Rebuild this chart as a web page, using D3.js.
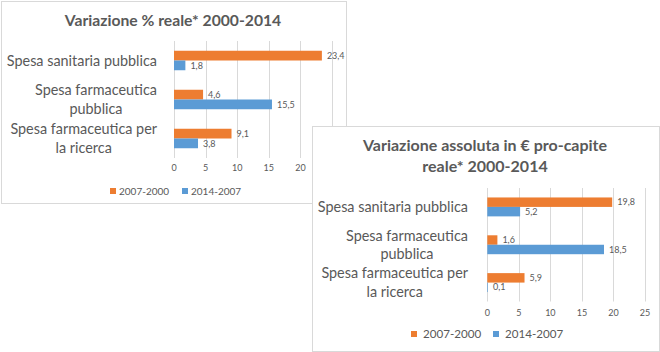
<html>

<body style="margin:0;background:#fff">
    <script src="https://d3js.org/d3.v7.min.js"></script>
    <div id="main"></div>

    <script>
        // chart values
        var categories = ["Spesa sanitaria pubblica", "Spesa farmaceutica pubblica", "Spesa farmaceutica per la ricerca"];
        var categoryLines = [["Spesa sanitaria pubblica"], ["Spesa farmaceutica", "pubblica"], ["Spesa farmaceutica per", "la ricerca"]];
        var seriesNames = ["2007-2000", "2014-2007"];
        var pct2007 = [23.4, 4.6, 9.1];
        var pct2014 = [1.8, 15.5, 3.8];
        var abs2007 = [19.8, 1.6, 5.9];
        var abs2014 = [5.2, 18.5, 0.1];
        var tickValues = [0, 5, 10, 15, 20, 25];

        var colors = { "2007-2000": "#ED7D31", "2014-2007": "#5B9BD5" };
        var textColor = "#595959";
        var font = "Lato, 'Open Sans', sans-serif";

        var svg = d3.select("#main")
            .append("svg")
            .attr("width", 660)
            .attr("height", 352)
            .style("font-family", font);

        function drawChart(cfg) {
            var g = svg.append("g");

            // panel
            g.append("rect")
                .attr("x", cfg.box[0] + 0.5)
                .attr("y", cfg.box[1] + 0.5)
                .attr("width", cfg.box[2])
                .attr("height", cfg.box[3])
                .style("fill", "white")
                .style("stroke", "#d9d9d9");

            // title
            var title = g.append("text")
                .attr("x", cfg.titleX)
                .attr("y", cfg.titleY)
                .style("text-anchor", "middle")
                .style("font-weight", "bold")
                .style("font-size", cfg.titleSize + "px")
                .style("fill", textColor);
            cfg.title.forEach(function (t, i) {
                title.append("tspan")
                    .attr("x", cfg.titleX)
                    .attr("dy", i == 0 ? 0 : 21)
                    .text(t);
            });

            var x = d3.scaleLinear()
                .domain([0, 25])
                .range(cfg.xRange);

            var y = d3.scaleBand()
                .domain(categories)
                .range(cfg.yRange)
                .paddingInner(0.5)
                .paddingOuter(0.25);

            var ySub = d3.scaleBand()
                .domain(seriesNames)
                .range([0, y.bandwidth()]);

            // gridlines
            g.append("g")
                .selectAll("line")
                .data(tickValues)
                .enter()
                .append("line")
                .attr("x1", function (d) { return Math.round(x(d)) + 0.5; })
                .attr("x2", function (d) { return Math.round(x(d)) + 0.5; })
                .attr("y1", cfg.yRange[0])
                .attr("y2", cfg.yRange[1])
                .style("stroke", "#d9d9d9");

            // tick labels
            g.append("g")
                .selectAll("text")
                .data(tickValues)
                .enter()
                .append("text")
                .attr("x", function (d) { return x(d); })
                .attr("y", cfg.tickY)
                .attr("dy", "0.35em")
                .style("text-anchor", "middle")
                .style("font-size", "9px")
                .style("fill", textColor)
                .text(function (d) { return d; });

            // category labels
            categories.forEach(function (c, i) {
                var lines = categoryLines[i];
                var cy = y(c) + y.bandwidth() / 2;
                var t = g.append("text")
                    .style("font-size", cfg.catSize + "px")
                    .style("fill", textColor)
                    .style("text-anchor", "end");
                lines.forEach(function (l, j) {
                    t.append("tspan")
                        .attr("x", cfg.catX)
                        .attr("y", cy + (j - (lines.length - 1) / 2) * cfg.catLine)
                        .attr("dy", "0.35em")
                        .text(l);
                });
                // center shorter lines under the longest one
                var w = t.selectAll("tspan").nodes().map(function (n) { return n.getComputedTextLength(); });
                var maxW = d3.max(w);
                t.selectAll("tspan").attr("x", function (d, j) { return cfg.catX - (maxW - w[j]) / 2; });
            });

            // bars
            var rows = [];
            categories.forEach(function (c, i) {
                rows.push({ cat: c, series: seriesNames[0], value: cfg.values[0][i] });
                rows.push({ cat: c, series: seriesNames[1], value: cfg.values[1][i] });
            });

            g.append("g")
                .selectAll("rect")
                .data(rows)
                .enter()
                .append("rect")
                .attr("x", x(0))
                .attr("y", function (d) { return y(d.cat) + ySub(d.series); })
                .attr("width", function (d) { return x(d.value) - x(0); })
                .attr("height", ySub.bandwidth())
                .style("fill", function (d) { return colors[d.series]; });

            g.append("g")
                .selectAll("text")
                .data(rows)
                .enter()
                .append("text")
                .attr("x", function (d) { return x(d.value) + 5; })
                .attr("y", function (d) { return y(d.cat) + ySub(d.series) + ySub.bandwidth() / 2; })
                .attr("dy", "0.35em")
                .style("font-size", "9px")
                .style("fill", textColor)
                .text(function (d) { return String(d.value).replace(".", ","); });

            // legend
            seriesNames.forEach(function (s, i) {
                g.append("rect")
                    .attr("x", cfg.legendX[i])
                    .attr("y", cfg.legendY - 3)
                    .attr("width", 6)
                    .attr("height", 6)
                    .style("fill", colors[s]);
                g.append("text")
                    .attr("x", cfg.legendX[i] + cfg.legendGap)
                    .attr("y", cfg.legendY)
                    .attr("dy", "0.35em")
                    .style("font-size", cfg.legendSize + "px")
                    .style("fill", textColor)
                    .text(s);
            });
        }

        drawChart({
            box: [1, 1, 345, 202],
            title: ["Variazione % reale* 2000-2014"],
            titleX: 173, titleY: 26, titleSize: 15.7,
            xRange: [174, 332],
            yRange: [41, 158],
            tickY: 168,
            catX: 157, catSize: 14.4, catLine: 18.5,
            values: [pct2007, pct2014],
            legendX: [110, 182], legendY: 191, legendGap: 9, legendSize: 10
        });

        drawChart({
            box: [312, 126, 347, 225],
            title: ["Variazione assoluta in € pro-capite", "reale* 2000-2014"],
            titleX: 485, titleY: 151, titleSize: 16,
            xRange: [487.3, 645],
            yRange: [188, 301.5],
            tickY: 313,
            catX: 468, catSize: 14.4, catLine: 18.5,
            values: [abs2007, abs2014],
            legendX: [411, 493], legendY: 334, legendGap: 12, legendSize: 11.6
        });
    </script>
</body>

</html>
